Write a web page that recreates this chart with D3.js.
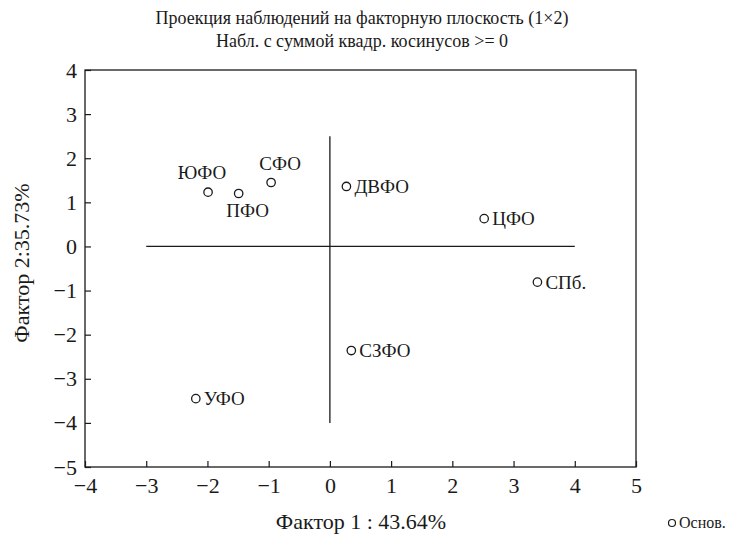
<!DOCTYPE html>
<html><head><meta charset="utf-8">
<script src="https://cdn.jsdelivr.net/npm/d3@7"></script>
<style>body{margin:0;background:#fff}</style>
</head><body><svg id="c" width="742" height="540"></svg>
<script>
const names = ["ЮФО","ПФО","СФО","ДВФО","ЦФО","СПб.","СЗФО","УФО"];
const factor1 = [-1.99,-1.49,-0.96,0.27,2.52,3.39,0.35,-2.19];
const factor2 = [1.23,1.20,1.45,1.36,0.63,-0.81,-2.36,-3.45];
const labelPos = ["aboveLeft","below","above","right","right","right","right","right"];
const xTicks = [-4,-3,-2,-1,0,1,2,3,4,5];
const yTicks = [-5,-4,-3,-2,-1,0,1,2,3,4];
const hLine = {x:[-3,4], y:0};
const vLine = {x:0, y:[-4,2.5]};

const W=742,H=540,m={l:85,r:106,t:70,b:73};
const FONT="Liberation Serif";
const INK="#1a1a1a";
const svg=d3.select("#c");
const x=d3.scaleLinear().domain([-4,5]).range([m.l,W-m.r]);
const y=d3.scaleLinear().domain([-5,4]).range([H-m.b,m.t]);
const fmt=d=>d<0?"\u2212"+Math.abs(d):String(d);
const txt=(sel)=>sel.attr("font-family",FONT).attr("fill",INK);

svg.append("rect").attr("x",m.l).attr("y",m.t).attr("width",W-m.l-m.r).attr("height",H-m.t-m.b)
 .attr("fill","none").attr("stroke",INK).attr("stroke-width",1.3);

const xa=svg.append("g").attr("transform",`translate(0,${H-m.b})`)
 .call(d3.axisBottom(x).tickValues(xTicks).tickSize(-6).tickPadding(10).tickFormat(fmt));
const ya=svg.append("g").attr("transform",`translate(${m.l},0)`)
 .call(d3.axisLeft(y).tickValues(yTicks).tickSize(-6).tickPadding(8).tickFormat(fmt));
[xa,ya].forEach(a=>{a.attr("font-family",FONT).attr("font-size",22);a.select(".domain").remove();
 a.selectAll("line").attr("stroke",INK).attr("stroke-width",1.2);
 a.selectAll("text").attr("font-family",FONT).attr("font-size",22).attr("fill",INK);});

svg.append("line").attr("x1",x(hLine.x[0])).attr("x2",x(hLine.x[1])).attr("y1",y(hLine.y)).attr("y2",y(hLine.y)).attr("stroke",INK).attr("stroke-width",1.3);
svg.append("line").attr("x1",x(vLine.x)).attr("x2",x(vLine.x)).attr("y1",y(vLine.y[0])).attr("y2",y(vLine.y[1])).attr("stroke",INK).attr("stroke-width",1.3);

const pts=names.map((n,i)=>({n,x:factor1[i],y:factor2[i],p:labelPos[i]}));
svg.selectAll("circle.p").data(pts).join("circle").attr("class","p")
 .attr("cx",d=>x(d.x)).attr("cy",d=>y(d.y)).attr("r",4.2).attr("fill","#fff").attr("stroke",INK).attr("stroke-width",1.3);
const off={right:[8,0,"start"],above:[9,-19,"middle"],below:[9,17,"middle"],aboveLeft:[-6,-20,"middle"]};
svg.selectAll("text.l").data(pts).join("text").attr("class","l").call(txt)
 .attr("x",d=>x(d.x)+off[d.p][0]).attr("y",d=>y(d.y)+off[d.p][1]).attr("dy","0.35em")
 .attr("text-anchor",d=>off[d.p][2]).attr("font-size",19).text(d=>d.n);

svg.append("text").call(txt).attr("x",362).attr("y",24).attr("text-anchor","middle").attr("font-size",18).text("Проекция наблюдений на факторную плоскость (1×2)");
svg.append("text").call(txt).attr("x",362).attr("y",47).attr("text-anchor","middle").attr("font-size",18).text("Набл. с суммой квадр. косинусов >= 0");
svg.append("text").call(txt).attr("x",361).attr("y",529).attr("text-anchor","middle").attr("font-size",22).text("Фактор 1 : 43.64%");
svg.append("text").call(txt).attr("transform","translate(29,263) rotate(-90)").attr("text-anchor","middle").attr("font-size",22).text("Фактор 2:35.73%");
svg.append("circle").attr("cx",672).attr("cy",523).attr("r",3.5).attr("fill","#fff").attr("stroke",INK).attr("stroke-width",1.2);
svg.append("text").call(txt).attr("x",679).attr("y",528).attr("font-size",16).text("Основ.");
</script></body></html>
